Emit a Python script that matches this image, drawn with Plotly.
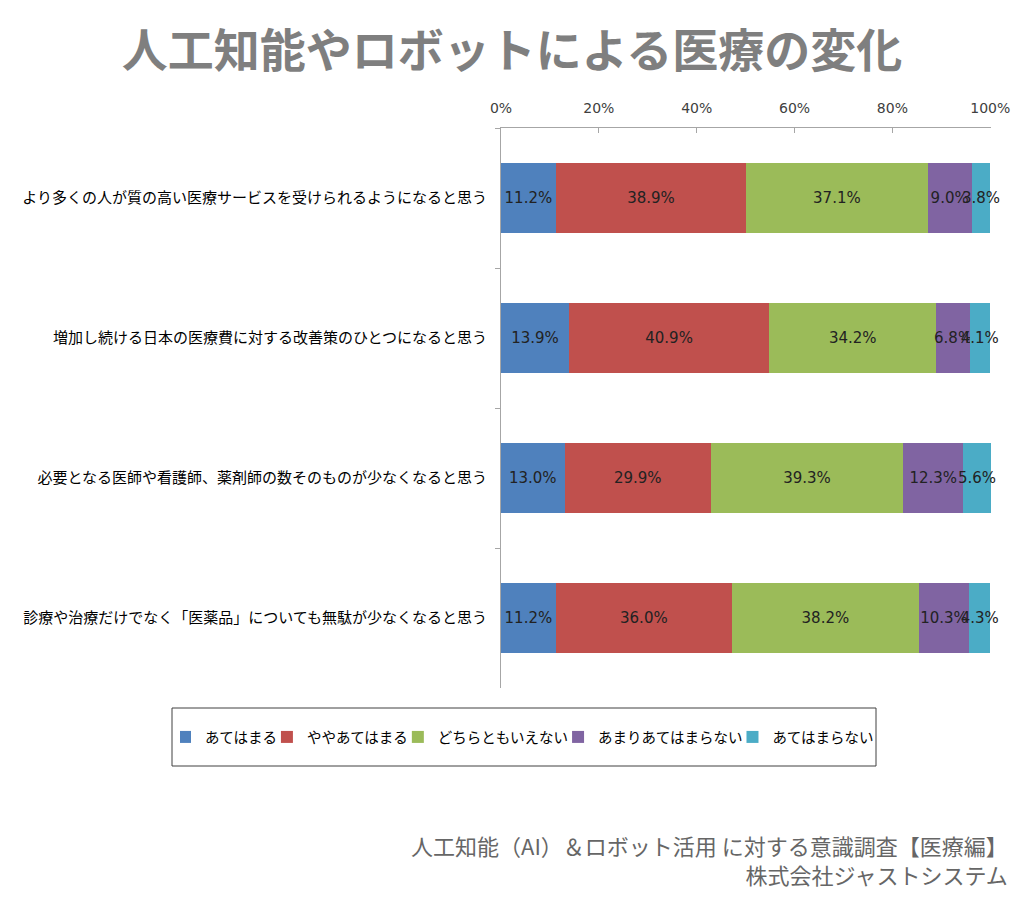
import plotly.graph_objects as go

categories = [
    "より多くの人が質の高い医療サービスを受けられるようになると思う",
    "増加し続ける日本の医療費に対する改善策のひとつになると思う",
    "必要となる医師や看護師、薬剤師の数そのものが少なくなると思う",
    "診療や治療だけでなく「医薬品」についても無駄が少なくなると思う",
]
series_names = ["あてはまる", "ややあてはまる", "どちらともいえない", "あまりあてはまらない", "あてはまらない"]
values_atehamaru = [11.2, 13.9, 13.0, 11.2]
values_yaya = [38.9, 40.9, 29.9, 36.0]
values_dochira = [37.1, 34.2, 39.3, 38.2]
values_amari = [9.0, 6.8, 12.3, 10.3]
values_atehamaranai = [3.8, 4.1, 5.6, 4.3]
series_values = [values_atehamaru, values_yaya, values_dochira, values_amari, values_atehamaranai]
colors = ["#4F81BD", "#C0504D", "#9BBB59", "#8064A2", "#4BACC6"]
tick_vals = [0, 20, 40, 60, 80, 100]
tick_text = ["0%", "20%", "40%", "60%", "80%", "100%"]

FONT = "DejaVu Sans, Noto Sans CJK JP"
JP = "Noto Sans CJK JP, DejaVu Sans"

W, H = 1008, 890  # page body has an 8px margin
PL, PT, PW, PH = 493, 120, 490, 560


def px(xf):
    return (xf - 8 - PL) / PW


def py(yf):
    return (PT + PH - (yf - 8)) / PH


fig = go.Figure()
for name, vals, col in zip(series_names, series_values, colors):
    fig.add_trace(go.Bar(
        y=categories, x=vals, name=name, orientation="h",
        marker=dict(color=col, line=dict(width=0)),
        text=[f"{v:.1f}%" for v in vals],
        textposition="inside", insidetextanchor="middle",
        textangle=0, constraintext="none",
        textfont=dict(family=FONT, size=15, color="#222222"),
        cliponaxis=False,
        hoverinfo="skip",
    ))

fig.update_layout(
    barmode="stack",
    bargap=0.5,
    width=W, height=H,
    paper_bgcolor="white", plot_bgcolor="white",
    margin=dict(l=PL, r=W - PL - PW, t=PT, b=H - PT - PH, autoexpand=False),
    title=dict(text="<b>人工知能やロボットによる医療の変化</b>",
               font=dict(family=JP, size=46, color="#7F7F7F"),
               x=(512 - 8) / W, xanchor="center", y=1 - 43 / H, yanchor="middle"),
    xaxis=dict(side="top", range=[0, 100.15], tickvals=tick_vals, ticktext=tick_text,
               showgrid=False, zeroline=False, showline=True, linecolor="#A6A6A6", linewidth=1,
               ticks="inside", ticklen=5, tickcolor="#A6A6A6",
               tickfont=dict(family=FONT, size=14, color="#404040"),
               ticklabelstandoff=8, fixedrange=True),
    yaxis=dict(autorange="reversed", showgrid=False, zeroline=False,
               showline=True, linecolor="#A6A6A6", linewidth=1,
               ticks="outside", ticklen=5, tickcolor="#A6A6A6", tickson="boundaries",
               tickfont=dict(family=JP, size=15, color="#000000"),
               ticklabelstandoff=10, fixedrange=True),
    legend=dict(orientation="h", xref="paper", yref="paper",
                x=px(180), xanchor="left",
                y=py(737), yanchor="middle",
                borderwidth=0, bgcolor="rgba(0,0,0,0)",
                font=dict(family=JP, size=14.5, color="#000000"),
                itemwidth=30, indentation=-15, tracegroupgap=0,
                traceorder="normal", itemclick=False, itemdoubleclick=False),
    showlegend=True,
)

# legend frame
fig.add_shape(type="rect", xref="paper", yref="paper",
              x0=px(172), x1=px(876), y0=py(766), y1=py(708),
              line=dict(color="#404040", width=1), fillcolor="white", layer="below")

fig.add_annotation(text="人工知能（AI）＆ロボット活用 に対する意識調査【医療編】<br>株式会社ジャストシステム",
                   xref="paper", yref="paper", x=(1002 - PL) / PW, y=(PT + PH - 851) / PH,
                   xanchor="right", yanchor="middle", align="right", showarrow=False,
                   font=dict(family=JP, size=22, color="#666666"))

fig.write_html("out.html")
